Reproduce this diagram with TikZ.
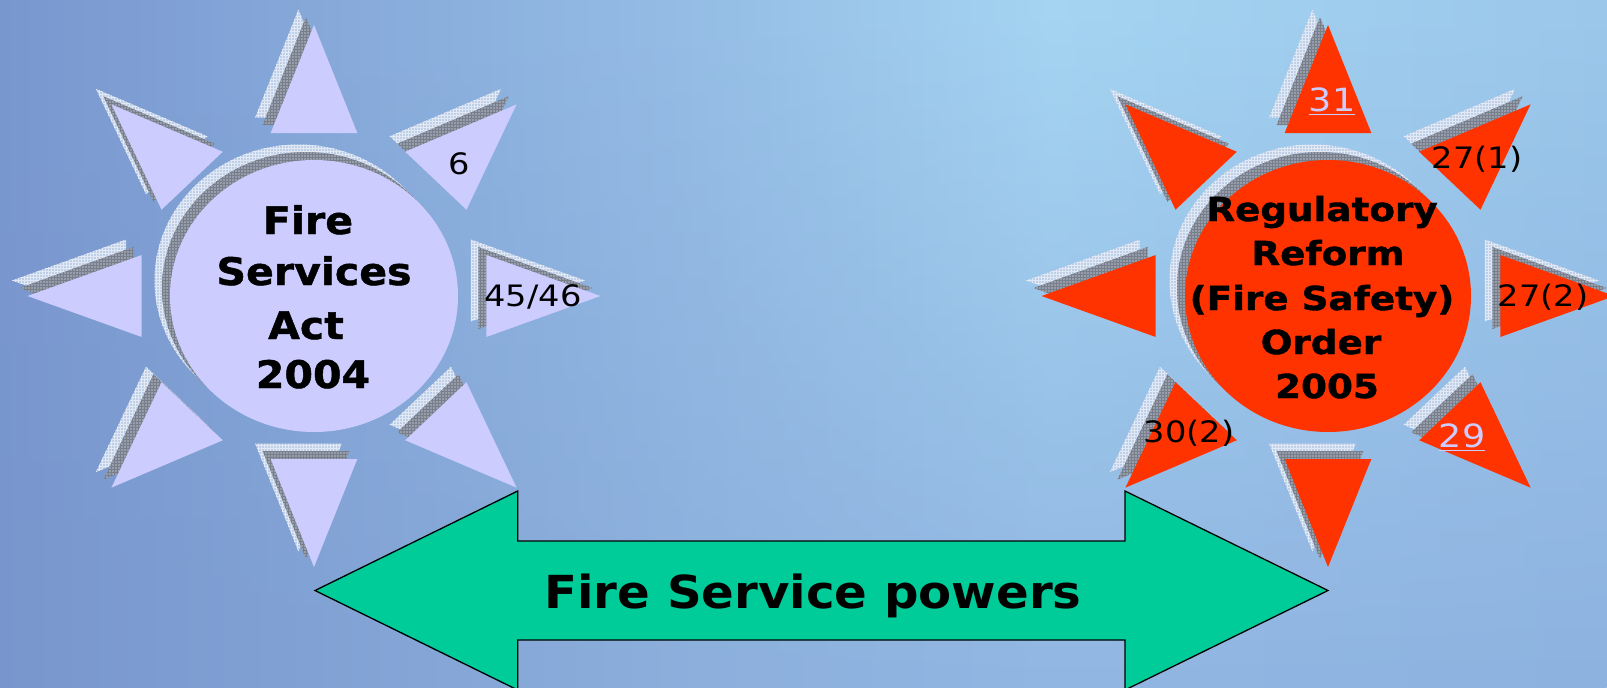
\documentclass[tikz,border=0pt]{standalone}
\usepackage{fontspec}
\setmainfont{DejaVu Sans}[FakeStretch=1.14]
\newfontfamily\heavyfont{DejaVu Sans Bold}[FakeStretch=1.13, FakeBold=1.2]
\newfontfamily\heavyfontL{DejaVu Sans Bold}[FakeStretch=1.08, FakeBold=1.2]
\newfontfamily\arrowfont{DejaVu Sans Bold}[FakeStretch=1.06]
\usetikzlibrary{fadings,patterns,shapes.geometric}

\definecolor{lav}{RGB}{204,204,255}
\definecolor{fire}{RGB}{255,51,0}
\definecolor{arrowgreen}{RGB}{0,204,153}
\definecolor{shlight}{RGB}{190,207,232}
\definecolor{shdark}{RGB}{150,157,172}

\pgfdeclarehorizontalshading{bgtop}{100bp}{rgb(0bp)=(0.478,0.596,0.816); rgb(25bp)=(0.478,0.596,0.816); rgb(46.8bp)=(0.588,0.745,0.902); rgb(57.7bp)=(0.647,0.835,0.949); rgb(75bp)=(0.608,0.784,0.922); rgb(100bp)=(0.608,0.784,0.922)}
\pgfdeclarehorizontalshading{bgbot}{100bp}{rgb(0bp)=(0.471,0.588,0.804); rgb(25bp)=(0.471,0.588,0.804); rgb(46.8bp)=(0.549,0.686,0.863); rgb(57.7bp)=(0.569,0.714,0.886); rgb(75bp)=(0.557,0.698,0.878); rgb(100bp)=(0.557,0.698,0.878)}
\tikzfading[name=fadebot, top color=transparent!100, bottom color=transparent!0]

\newcommand\ulnk[1]{\setbox0\hbox{#1}\rlap{\rule[-4pt]{\wd0}{1.3pt}}\box0}
% cx, cy, angle, style
\newcommand\sunray[4]{%
  \fill[#4] ({#1+1.057*271*sin(#3)},{#2-271*cos(#3)})
    -- ({#1+1.057*(163*sin(#3)-41*cos(#3))},{#2-(163*cos(#3)+41*sin(#3))})
    -- ({#1+1.057*(163*sin(#3)+41*cos(#3))},{#2-(163*cos(#3)-41*sin(#3))}) -- cycle;}

\tikzset{
  shL/.style={fill=shlight, postaction={pattern=grid, pattern color=white!55!shlight}},
  shD/.style={fill=shdark, postaction={pattern=grid, pattern color=shdark!80!black}},
  lbl/.style={font=\fontsize{29.5}{32}\selectfont, anchor=base, inner sep=0pt},
  lnk/.style={font=\fontsize{32}{34}\selectfont, anchor=base, inner sep=0pt, text=lav},
  bigL/.style={font=\heavyfontL\fontsize{38}{42}\selectfont, anchor=base, inner sep=0pt},
  bigR/.style={font=\heavyfont\fontsize{33}{36}\selectfont, anchor=base, inner sep=0pt},
  arrowtxt/.style={font=\arrowfont\fontsize{45.5}{48}\selectfont, anchor=base, inner sep=0pt},
  disc/.style={ellipse, inner sep=0pt, minimum width=288pt, minimum height=272pt},
}

\begin{document}
\begin{tikzpicture}[x=1pt,y=-1pt]
\useasboundingbox (0,0) rectangle (1607,688);
\begin{scope}
\clip (0,0) rectangle (1607,688);
\shade[shading=bgtop] (0,0) rectangle (1607,688);
\shade[shading=bgbot, path fading=fadebot] (0,0) rectangle (1607,688);

% left sun
\foreach \t in {0,45,...,315} {
  \sunray{314}{296}{\t}{shL, shift={(-15.5,-15.5)}}
  \sunray{314}{296}{\t}{shD, shift={(-8,-8)}}
  \sunray{314}{296}{\t}{fill=lav}
}
\fill[shL] (298.5,280.5) ellipse [x radius=144, y radius=136];
\fill[shD] (306,288) ellipse [x radius=144, y radius=136];
\node[disc, fill=lav] (fsa) at (314,296) {};

% right sun
\foreach \t in {0,45,...,315} {
  \sunray{1328}{296}{\t}{shL, shift={(-15.5,-15.5)}}
  \sunray{1328}{296}{\t}{shD, shift={(-8,-8)}}
  \sunray{1328}{296}{\t}{fill=fire}
}
\fill[shL] (1312.5,280.5) ellipse [x radius=143, y radius=136];
\fill[shD] (1320,288) ellipse [x radius=143, y radius=136];
\node[disc, fill=fire, minimum width=286pt] (rrfso) at (1328,296) {};

% left texts
\node[bigL] (fsa1) at (308,234) {Fire};
\node[bigL] (fsa2) at (314,285) {Services};
\node[bigL] (fsa3) at (306,339) {Act};
\node[bigL] (fsa4) at (313,388) {2004};
\node[lbl] (s6) at (459,174) {6};
\node[lbl] (s4546) at (533,306) {45/46};

% right texts
\node[bigR] (rr1) at (1322,221) {Regulatory};
\node[bigR] (rr2) at (1328,265) {Reform};
\node[bigR] (rr3) at (1322,310) {(Fire Safety)};
\node[bigR] (rr4) at (1321,354) {Order};
\node[bigR] (rr5) at (1327,398) {2005};
\node[lnk] (s31) at (1332,111) {\ulnk{31}};
\node[lbl] (s271) at (1477,168) {27(1)};
\node[lbl] (s272) at (1543,306) {27(2)};
\node[lbl] (s302) at (1189,442) {30(2)};
\node[lnk] (s29) at (1462,447) {\ulnk{29}};

% double arrow
\draw[fill=arrowgreen, line width=1.3pt, line join=miter]
  (315,590.5) -- (517.7,491) -- (517.7,541) -- (1125,541) -- (1125,491)
  -- (1328,590.5) -- (1125,690) -- (1125,640) -- (517.7,640) -- (517.7,690) -- cycle;
\node[arrowtxt] (fsp) at (813,608) {Fire Service powers};
\end{scope}
\end{tikzpicture}
\end{document}
